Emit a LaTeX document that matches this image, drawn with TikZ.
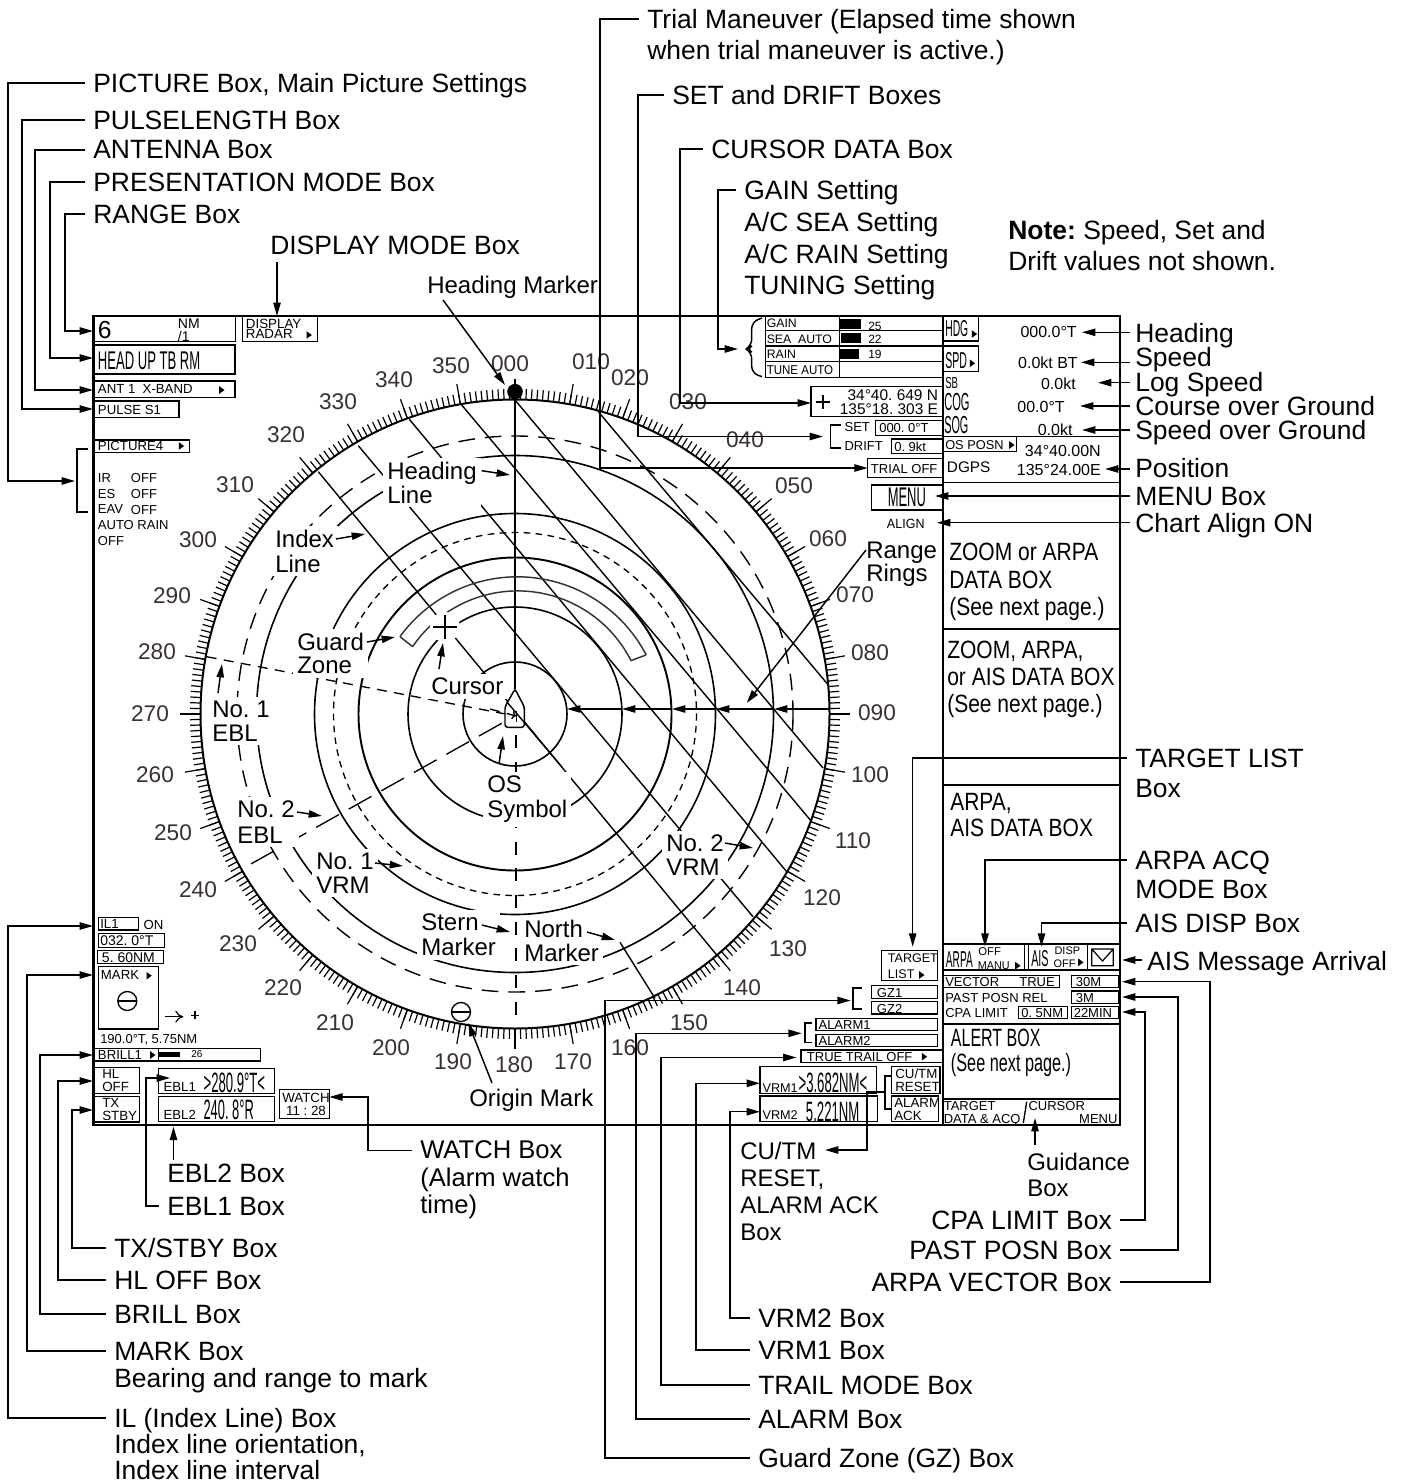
\documentclass[tikz,border=0pt]{standalone}
\usepackage{fontspec}
\usepackage{graphicx}
\setmainfont{Liberation Sans}
\usetikzlibrary{arrows.meta,calc}
\definecolor{numc}{HTML}{3A2E38}
\frenchspacing
\newcommand\cs[2]{\scalebox{#1}[1]{#2}}
\tikzset{
  tx/.style={anchor=north west,inner sep=0pt,align=left,font=\fontsize{#1}{#1}\selectfont,yshift=.358*#1*1pt},
  txr/.style={tx=#1,anchor=north east},
  big/.style={tx=19.85,font=\fontsize{19.85}{22.5}\selectfont},
  mid/.style={tx=18,font=\fontsize{18}{18}\selectfont},
  midw/.style={mid,fill=white,inner sep=3pt,xshift=-3pt,yshift=3pt},
  num/.style={inner sep=0pt,text=numc,font=\fontsize{17}{17}\selectfont},
  ar/.style={line width=1.1pt,-{Triangle[length=10pt,width=5.5pt]}},
  ln/.style={line width=1.1pt},
  bxs/.style={draw,line width=1pt,anchor=north west,inner sep=0pt,outer sep=0pt},
  ringl/.style={line width=1.2pt},
  idx/.style={line width=1.05pt},
  gz/.style={line width=1.1pt,draw=numc},
}
\newcommand\bx[5]{\pgfmathsetmacro\bxw{(#4-#2)*.75}\pgfmathsetmacro\bxh{(#5-#3)*.75}\node[bxs,minimum width=\bxw pt,minimum height=\bxh pt] (#1) at (#2,#3) {};}
\newcommand\elw[3]{\draw[ar] ([xshift=-6pt,yshift=-7.1pt]#1.north west) -| (#2) -- (#2 -| #3);}
\newcommand\ele[3]{\draw[ar] ([xshift=6pt,yshift=-7.1pt]#1.north east) -| (#2) -- (#2 -| #3);}
\newcommand\rar[3]{\coordinate (t#1) at (#2,#3); \draw[ar] ([xshift=-4pt]t#1 -| #1.west) -- (t#1);}
\newcommand\lead[5]{\coordinate (#1s) at (#2,#3); \coordinate (#1t) at (#4,#5); \draw[ar] (#1s) -- (#1t);}
\newcommand\tri[2]{\fill (#1-2.5,#2-3.8) -- (#1+2.8,#2) -- (#1-2.5,#2+3.8) -- cycle;}
\begin{document}
\begin{tikzpicture}[x=0.75pt,y=-0.75pt]
\useasboundingbox (0,0) rectangle (1403,1483);
\coordinate (fl) at (93,0);
\coordinate (fr) at (1122,0);
% ---- scale and rings
\draw[line width=1.5pt] (515,714) circle (314.5);
\foreach \a in {0,...,359}
  \draw[line width=.9pt] ({515+314.5*sin(\a)},{714-314.5*cos(\a)}) -- ({515+325*sin(\a)},{714-325*cos(\a)});
\foreach \a in {0,10,...,350}
  \draw[line width=.9pt] ({515+314.5*sin(\a)},{714-314.5*cos(\a)}) -- ({515+335*sin(\a)},{714-335*cos(\a)});
\foreach \t/\xx/\yy in {000/510/364,010/591/362,020/630/378,030/688/402,040/745/440,050/794/486,060/828/539,070/855/595,080/870/653,090/877/713,100/870/775,110/853/841,120/822/898,130/788/949,140/742/988,150/689/1023,160/630/1048,170/573/1062,180/514/1065,190/453/1062,200/391/1048,210/335/1023,220/283/988,230/238/944,240/198/890,250/173/833,260/155/775,270/150/714,280/157/652,290/172/596,300/198/540,310/235/485,320/286/435,330/338/402,340/394/380,350/451/366}
  \node[num] (d\t) at (\xx,\yy) {\t};
\draw[ringl] (515,714) circle (52);
\draw[ringl] (515,714) circle (107);
\draw[line width=1.45pt] (515,714) circle (156.5);
\draw[line width=1pt,dash pattern=on 5pt off 4pt] (515,714) circle (181.5);
\draw[ringl] (515,714) circle (200.5);
\draw[ringl] (515,714) circle (258.5);
\draw[line width=1.05pt,dash pattern=on 12.5pt off 7.5pt] (515,714) circle (278);
% index lines
\draw[idx] (598.3,411.7) -- (828.3,685);
\draw[idx] (515,400) -- (823,768);
\draw[idx] (461.7,405) -- (811.7,821.7);
\draw[idx] (409.3,419.3) -- (786.7,871.7);
\draw[idx] (358.3,445.7) -- (753,916.7);
\draw[idx] (318.3,471.7) -- (716.7,955);
\draw[idx] (620,942.3) -- (655,998.3);
% heading line and EBLs
\draw[line width=1.2pt] (515,392) -- (515,700);
\fill (515,391.7) circle (7.8);
\draw[line width=1pt,dash pattern=on 7.5pt off 5.5pt,-{To[length=3pt]}] (206.7,656.7) -- (516,716);
\draw[line width=1pt,dash pattern=on 19.5pt off 8.5pt] (501.7,723.3) -- (245,867.3);
\draw[line width=1pt,dash pattern=on 9.8pt off 10.2pt] (516,735) -- (516,1015);
% guard zone
\draw[gz] plot[domain=-54:62.5,samples=70] ({517.4+145.2*sin(\x)},{722-145.2*cos(\x)});
\draw[gz] plot[domain=-55.9:63.2,samples=70] ({517.7+126.9*sin(\x)},{717.8-126.9*cos(\x)});
\draw[gz] (400,636.7) -- (412.7,646.7);
\draw[gz] (646,655) -- (630.7,660.7);
% cursor
\fill[white] (445,627) circle (15);
\draw[line width=1.1pt] (433,627) -- (457,627) (445,615) -- (445,639);
% own ship
\fill[white] (505,706.7) -- (515,689) -- (524.3,706.7) -- (524.3,727.3) -- (505,727.3) -- cycle;
\draw[line width=1.1pt,rounded corners=2pt] (515,689) -- (524.3,706.7) -- (524.3,727.3) -- (505,727.3) -- (505,706.7) -- cycle;
\draw[idx] (506.7,701.7) -- (561.7,766.7);
\draw[line width=.8pt] (516.3,711) -- (516.3,722);
\draw[line width=1pt,dash pattern=on 7.5pt off 5.5pt,-{To[length=3pt]}] (490,709) -- (516,716);
% origin mark
\draw[line width=1pt] (461,1012) circle (9.5);
\draw[line width=1pt] (451.5,1012) -- (470.5,1012);
% ---- labels inside the scale (white behind)
\node[midw] (lHeading) at (387,470) {Heading\\Line};
\node[midw,font=\fontsize{18}{18.7}\selectfont] (lIndex) at (275,538) {Index\\Line};
\node[midw,font=\fontsize{18}{17.5}\selectfont] (lGuard) at (297,641) {Guard\\Zone};
\node[midw] (lCursor) at (431,686) {Cursor};
\node[midw] (lEbl1) at (212,709) {No. 1\\EBL};
\node[midw,font=\fontsize{18}{19.5}\selectfont] (lEbl2) at (237,809) {No. 2\\EBL};
\node[midw] (lVrm1) at (316,861) {No. 1\\VRM};
\node[midw] (lVrm2) at (666,843) {No. 2\\VRM};
\node[midw,font=\fontsize{18}{19}\selectfont] (lOs) at (487,784) {OS\\Symbol};
\node[midw,font=\fontsize{18}{18.7}\selectfont] (lStern) at (421,922) {Stern\\Marker};
\node[midw] (lNorth) at (524,928) {North\\Marker};
\node[mid,font=\fontsize{18}{17.5}\selectfont] (lRange) at (866,550) {Range\\Rings};
\node[mid] (lHm) at (427,284) {Heading Marker};
\node[mid] (lOrigin) at (469,1097) {Origin Mark};
% inner leaders
\lead{a1}{481.7}{470.7}{510}{475}
\lead{a2}{336}{539}{365}{534}
\lead{a3}{367}{642}{395}{637}
\lead{a4}{439}{669}{443}{643}
\lead{a5}{218}{693}{222}{664}
\lead{a6}{297}{812}{322}{816}
\lead{a7}{375}{863}{403}{866}
\lead{a8}{499}{764}{503}{736}
\lead{a9}{725}{843}{753}{848}
\lead{a10}{482}{925}{510}{932}
\lead{a11}{587}{932}{615}{940}
\lead{a12}{866}{550}{746.7}{703}
\lead{a13}{443}{300}{505}{385}
\lead{a14}{492}{1083}{468.3}{1023}
\foreach \p/\q in {829/774,774/716,716/672,672/622,622/567}
  \draw[ar] (\p,709) -- (\q,709);
% ---- left panel boxes
\bx{rangebox}{94.3}{316}{235.7}{341.7}
\node[tx=18.5] (t6) at (97.7,330) {6};
\node[tx=10.5] (tNM) at (177.7,323.3) {NM};
\node[tx=10.5] (t1) at (177.7,335.7) {/1};
\bx{dispbox}{242.7}{316}{317.7}{341.7}
\node[tx=10,font=\fontsize{10}{8}\selectfont] (tDisp) at (245.7,323.3) {DISPLAY\\RADAR};
\tri{309}{335}
\bx{headbox}{94.3}{345}{235}{374}
\node[tx=19.2] (tHead) at (97.7,361) {\cs{.51}{HEAD UP TB RM}};
\bx{antbox}{94.3}{381}{235}{397.3}
\node[tx=9.9] (tAnt) at (97.7,389.3) {ANT 1\ \ X-BAND};
\tri{221.7}{390}
\bx{pulsebox}{94.3}{401}{179}{417.3}
\node[tx=9.9] (tPulse) at (97.7,409.3) {PULSE S1};
\bx{picbox}{94.3}{440}{189.7}{452.3}
\node[tx=9.9] (tPic) at (97.7,446) {PICTURE4};
\tri{181.3}{446}
\node[tx=9.75,font=\fontsize{9.75}{11.9}\selectfont] (tIr) at (97.7,477.7) {IR\\ES\\EAV\\AUTO RAIN\\OFF};
\node[tx=9.75,font=\fontsize{9.75}{11.9}\selectfont] (tIrv) at (130.7,477.7) {OFF\\OFF\\OFF};
% lower left
\bx{ilbox}{98.3}{917.3}{138.3}{930}
\node[tx=9.9] (tIl) at (100,923.7) {IL1};
\node[tx=9.9] (tOn) at (143.3,924.3) {ON};
\bx{oribox}{98.3}{933.3}{164.3}{947.3}
\node[tx=10.5] (tOri) at (100,940) {032. 0°T};
\bx{intbox}{97.7}{950.7}{163.3}{963.3}
\node[tx=10.5] (tInt) at (101.7,957) {5. 60NM};
\bx{markbox}{98.3}{966.7}{158.3}{1029}
\node[tx=9.9] (tMark) at (100.7,975) {MARK};
\tri{149}{975.7}
\draw[line width=1pt] (127.3,1001) circle (9.5);
\draw[line width=1pt] (117.8,1001) -- (136.8,1001);
\draw[line width=.9pt,-{To[length=6pt,width=9pt]}] (165,1016.7) -- (183.3,1016.7);
\draw[line width=.9pt] (191,1015.3) -- (199,1015.3) (195,1011.3) -- (195,1019.3);
\node[tx=9.75] (tMarkv) at (100,1038.3) {190.0°T, 5.75NM};
\bx{brillbox}{94.3}{1048.3}{260.7}{1061}
\draw[line width=1pt] (158.3,1048.3) -- (158.3,1061);
\node[tx=9.9] (tBrill) at (97.7,1054.7) {BRILL1};
\tri{152.7}{1055}
\fill (159,1052.3) rectangle (180,1057);
\node[tx=7.5] (tB26) at (191,1054.3) {26};
\bx{hlbox}{94.3}{1067.7}{139.3}{1093.3}
\node[tx=10,font=\fontsize{10}{9.5}\selectfont] (tHl) at (102,1074) {HL\\OFF};
\bx{txbox}{94.3}{1096.7}{139.3}{1122}
\node[tx=10,font=\fontsize{10}{9.5}\selectfont] (tTx) at (102,1103.3) {TX\\STBY};
\bx{ebl1box}{158.3}{1068.3}{274.3}{1093.3}
\node[tx=9.9] (tEb1) at (163.3,1086.7) {EBL1};
\node[tx=21] (vEb1) at (203.3,1082.3) {\cs{.47}{>280.9°T<}};
\bx{ebl2box}{158.3}{1096.7}{274.3}{1121.7}
\node[tx=9.9] (tEb2) at (163.3,1114.3) {EBL2};
\node[tx=21] (vEb2) at (203.3,1110) {\cs{.46}{240. 8°R}};
\bx{watchbox}{279.3}{1089.3}{329.3}{1118.3}
\node[tx=10,font=\fontsize{10}{10}\selectfont,align=center] (tWatch) at (282,1097.3) {WATCH\\11 : 28};
% ---- upper right boxes
\draw[line width=1pt] (765.7,316) -- (765.7,377.7) -- (943,377.7);
\draw[line width=1pt] (765.7,330.7) -- (943,330.7) (765.7,346) -- (943,346) (765.7,361.7) -- (943,361.7) (839.3,316) -- (839.3,377.7);
\node[tx=9.2] (tGain) at (766.5,323.3) {GAIN};
\node[tx=9.2] (tSea) at (766.5,339) {SEA\ \ AUTO};
\node[tx=9.2] (tRain) at (766.5,354) {RAIN};
\node[tx=9.6] (tTune) at (766.5,370) {\cs{.9}{TUNE AUTO}};
\fill (839.3,319.3) rectangle (861,329.3);
\fill (841,333) rectangle (861,342.7);
\fill (839.3,349.3) rectangle (859,358.7);
\node[tx=9] (v25) at (868,325.7) {25};
\node[tx=9] (v22) at (868,339) {22};
\node[tx=9] (v19) at (868,354) {19};
\draw[line width=1.1pt,rounded corners=5pt] (762,318) -- (751.7,322) -- (751.7,346) -- (746,349) -- (751.7,352) -- (751.7,373) -- (762,376.7);
\coordinate (bBrace) at (738,349);
\bx{hdgbox}{943}{316}{978.3}{341}
\node[tx=17.25] (tHdg) at (945,328) {\cs{.45}{HDG}};
\tri{974.3}{334}
\bx{spdbox}{943}{346}{978.3}{371.3}
\node[tx=17.25] (tSpd) at (945,360) {\cs{.46}{SPD}};
\tri{972.3}{363.3}
\node[tx=12] (tSb) at (945,382.3) {\cs{.6}{SB}};
\node[tx=18.5] (tCog) at (944,402) {\cs{.45}{COG}};
\node[tx=18.5] (tSog) at (944,424.5) {\cs{.44}{SOG}};
\node[txr=12] (vHdg) at (1077,332) {000.0°T};
\node[txr=12] (vSpd) at (1078,362.3) {0.0kt BT};
\node[txr=12] (vLog) at (1076,383) {0.0kt};
\node[txr=12] (vCog) at (1065,406.7) {00.0°T};
\node[txr=12] (vSog) at (1072.7,429.3) {0.0kt};
\draw[line width=1pt] (943,436.7) -- (1120,436.7) (943,482.3) -- (1120,482.3);
\bx{osbox}{943}{436.7}{1016.7}{451.7}
\node[tx=9.6] (tOs) at (945,444.7) {OS POSN};
\tri{1011.7}{445}
\node[txr=12] (vLat) at (1101,450.7) {34°40.00N};
\node[txr=12] (vLon) at (1101,470) {135°24.00E};
\node[tx=11.5] (tDgps) at (946.7,466.7) {DGPS};
\bx{menubox}{871.7}{485}{943}{510}
\node[tx=20.25] (tMenu) at (887.5,497.7) {\cs{.48}{MENU}};
\node[tx=10] (tAlign) at (886.7,523.3) {\cs{.94}{ALIGN}};
\bx{curbox}{811}{386.3}{942.3}{416.7}
\draw[line width=1.6pt] (815.7,401.7) -- (829.7,401.7) (822.7,394.7) -- (822.7,408.7);
\node[txr=11.6] (vCurLat) at (938.3,395) {34°40. 649 N};
\node[txr=11.6] (vCurLon) at (938.3,409) {135°18. 303 E};
\draw[line width=1.1pt] (841,425) -- (830.7,425) -- (830.7,448) -- (841,448);
\coordinate (bSet) at (823,436.5);
\node[tx=9.75] (tSet) at (844.3,427.3) {SET};
\node[tx=9.75] (tDrift) at (844.3,446) {DRIFT};
\bx{setbox}{875.7}{420.7}{942.3}{435.3}
\node[tx=9.75] (vSet) at (879,428) {000. 0°T};
\bx{driftbox}{891.7}{439}{942.3}{453.3}
\node[tx=9.75] (vDrift) at (894,446) {0. 9kt};
\bx{trialbox}{867.7}{458.3}{942.3}{477.7}
\node[tx=9.75] (tTrial) at (870.7,469.3) {TRIAL OFF};
% panel text
\draw[line width=1pt] (943,629) -- (1120,629) (943,785) -- (1120,785);
\node[tx=18.75,font=\fontsize{18.75}{20.6}\selectfont] (tZ1) at (949,552) {\cs{.84}{ZOOM or ARPA}\\\cs{.84}{DATA BOX}\\\cs{.84}{(See next page.)}};
\node[tx=18.75,font=\fontsize{18.75}{20.3}\selectfont] (tZ2) at (947,650) {\cs{.84}{ZOOM, ARPA,}\\\cs{.84}{or AIS DATA BOX}\\\cs{.84}{(See next page.)}};
\node[tx=18.75,font=\fontsize{18.75}{19.6}\selectfont] (tZ3) at (950,802) {\cs{.84}{ARPA,}\\\cs{.84}{AIS DATA BOX}};
% lower right boxes
\draw[line width=1.2pt] (943,944) -- (1120,944) (943,970) -- (1120,970) (943,1024) -- (1120,1024) (943,1099) -- (1120,1099);
\bx{arpabox}{943.3}{944}{1024.3}{970}
\node[tx=17.25] (tArpa) at (945.7,960) {\cs{.44}{ARPA}};
\node[tx=8.5] (tOff) at (978,951.7) {OFF};
\node[tx=8.5] (tManu) at (977.7,965) {\cs{.95}{MANU}};
\tri{1017.7}{965.7}
\bx{aisbox}{1028.3}{944}{1087.3}{970}
\node[tx=17.25] (tAis) at (1031,958) {\cs{.47}{AIS}};
\node[tx=8.2] (tDisp2) at (1054.3,951) {DISP};
\node[tx=8.2] (tOff2) at (1053.3,963.5) {OFF};
\tri{1080.7}{962.3}
\draw[line width=.9pt] (1091.7,949) rectangle (1113.3,965.7) (1091.7,949) -- (1102.5,961) -- (1113.3,949);
\bx{vecbox}{943}{975.7}{1059.3}{987.7}
\node[tx=9.75] (tVec) at (945,981.7) {VECTOR};
\node[txr=9.75] (tTrue) at (1055,981.7) {TRUE};
\bx{v30box}{1071.7}{975.7}{1119}{987.7}
\node[tx=9.75] (t30) at (1075.7,981.7) {30M};
\bx{v3box}{1071.7}{991}{1119}{1003.3}
\node[tx=9.75] (t3) at (1075.7,997.5) {3M};
\node[tx=9.75] (tPast) at (945,997.7) {PAST POSN REL};
\node[tx=9.75] (tCpa) at (945,1012.3) {CPA LIMIT};
\bx{cpabox}{1018.3}{1006.3}{1067.7}{1018.3}
\node[tx=9.75] (tCpav) at (1021,1012.3) {0. 5NM};
\bx{minbox}{1071.7}{1006.3}{1119}{1018.3}
\node[tx=9.75] (tMin) at (1073.5,1012.3) {22MIN};
\node[tx=18.75,font=\fontsize{18.75}{18.75}\selectfont] (tAlert) at (950.7,1038) {\cs{.64}{ALERT BOX}\\\cs{.65}{(See next page.)}};
\node[tx=9.75,font=\fontsize{9.75}{9.75}\selectfont] (tTgt) at (943.5,1106) {TARGET\\DATA \& ACQ};
\draw[line width=1pt] (1023.3,1123) -- (1026.7,1101.7);
\node[tx=9.75] (tCur) at (1028.3,1106) {CURSOR};
\node[txr=9.75] (tMenu2) at (1117.7,1119) {MENU};
\bx{tlbox}{881.7}{950.7}{937.3}{980.7}
\node[tx=9.4] (tTl1) at (887.7,958.3) {TARGET};
\node[tx=9.4] (tTl2) at (887.7,974.3) {LIST};
\tri{921.7}{975}
\bx{gz1box}{871.7}{985.3}{937.3}{998.3}
\node[tx=9.75] (tGz1) at (876.7,992.5) {GZ1};
\bx{gz2box}{871.7}{1001.7}{937.3}{1014}
\node[tx=9.75] (tGz2) at (876.7,1008.5) {GZ2};
\draw[line width=1.1pt] (861.7,988) -- (853,988) -- (853,1009) -- (861.7,1009);
\coordinate (bGz) at (850.7,1000);
\bx{al1box}{816}{1018.3}{937.3}{1030.7}
\node[tx=9.75] (tAl1) at (818.3,1024.7) {ALARM1};
\bx{al2box}{816}{1034.3}{937.3}{1046.7}
\node[tx=9.75] (tAl2) at (818.3,1040.7) {ALARM2};
\draw[line width=1.1pt] (812,1023) -- (805,1023) -- (805,1042.7) -- (812,1042.7);
\coordinate (bAl) at (801.7,1033.3);
\bx{trailbox}{801}{1050}{942.7}{1062.7}
\node[tx=9.75] (tTrail) at (806.7,1056.5) {TRUE TRAIL OFF};
\tri{924.3}{1056.7}
\bx{vrm1box}{760}{1066.7}{876.7}{1093.3}
\node[tx=9.5] (tV1) at (762.3,1088) {VRM1};
\node[tx=21] (vV1) at (798.3,1083) {\cs{.47}{>3.682NM<}};
\bx{vrm2box}{760}{1096}{877.3}{1121.7}
\node[tx=9.5] (tV2) at (762.3,1115) {VRM2};
\node[tx=21] (vV2) at (805.7,1111.7) {\cs{.47}{5.221NM}};
\bx{cubox}{891.7}{1066.7}{940}{1093.3}
\node[tx=10,font=\fontsize{10}{9.5}\selectfont] (tCu) at (895,1073.3) {CU/TM\\RESET};
\bx{akbox}{891.7}{1096}{938.3}{1121.7}
\node[tx=10,font=\fontsize{10}{9.5}\selectfont] (tAk) at (894,1103.3) {ALARM\\ACK};
\draw[line width=1.1pt] (892,1076) -- (885,1076) -- (885,1109) -- (892,1109);
% frame
\draw[line width=1.2pt] (943,316) -- (943,1125);
\draw[line width=2pt] (93.3,316) rectangle (1120,1125);
% bracket for picture settings
\draw[line width=1.1pt] (88,449) -- (77,449) -- (77,512) -- (88,512);
\coordinate (bPic) at (75,481);
% ---- outer labels
\node[big] (picL) at (93,83) {PICTURE Box, Main Picture Settings};
\node[big] (pulL) at (93,120) {PULSELENGTH Box};
\node[big] (antL) at (93,150) {ANTENNA Box};
\node[big] (preL) at (93,182) {PRESENTATION MODE Box};
\node[big] (ranL) at (93,214) {RANGE Box};
\node[big] (disL) at (270,245) {DISPLAY MODE Box};
\node[big,font=\fontsize{19.85}{23.2}\selectfont] (triL) at (647,19) {Trial Maneuver (Elapsed time shown\\when trial maneuver is active.)};
\node[big] (setL) at (672,95) {SET and DRIFT Boxes};
\node[big] (curL) at (711,149) {CURSOR DATA Box};
\node[big,font=\fontsize{19.85}{23.75}\selectfont] (gainL) at (744,190) {GAIN Setting\\A/C SEA Setting\\A/C RAIN Setting\\TUNING Setting};
\node[big,font=\fontsize{19.85}{23.2}\selectfont] (noteL) at (1008,230) {\textbf{Note:} Speed, Set and\\Drift values not shown.};
\node[big] (hdgL) at (1135,333) {Heading};
\node[big] (spdL) at (1135,357) {Speed};
\node[big] (logL) at (1135,382) {Log Speed};
\node[big] (cogL) at (1135,406) {Course over Ground};
\node[big] (sogL) at (1135,430) {Speed over Ground};
\node[big] (posL) at (1135,468) {Position};
\node[big] (menL) at (1135,496) {MENU Box};
\node[big] (alnL) at (1135,523) {Chart Align ON};
\node[big] (tglL) at (1135,758) {TARGET LIST\\Box};
\node[big,font=\fontsize{19.85}{21.9}\selectfont] (acqL) at (1135,860) {ARPA ACQ\\MODE Box};
\node[big] (aisL) at (1135,923) {AIS DISP Box};
\node[big] (msgL) at (1147,961) {AIS Message Arrival};
\node[big,anchor=north east] (vecL) at (1112,1282) {ARPA VECTOR Box};
\node[big,anchor=north east] (pastL) at (1112,1250) {PAST POSN Box};
\node[big,anchor=north east] (cpaL) at (1112,1220) {CPA LIMIT Box};
\node[mid,font=\fontsize{18}{19.5}\selectfont] (gdL) at (1027,1161) {Guidance\\Box};
\node[mid,font=\fontsize{18}{20.25}\selectfont] (cuL) at (740,1150) {CU/TM\\RESET,\\ALARM ACK\\Box};
\node[big] (vr2L) at (758,1318) {VRM2 Box};
\node[big] (vr1L) at (758,1350) {VRM1 Box};
\node[big] (trlL) at (758,1385) {TRAIL MODE Box};
\node[big] (almL) at (758,1419) {ALARM Box};
\node[big] (gzL) at (758,1458) {Guard Zone (GZ) Box};
\node[tx=19.2,font=\fontsize{19.2}{20.6}\selectfont] (wchL) at (420,1150) {WATCH Box\\(Alarm watch\\time)};
\node[big] (e2L) at (167,1173) {EBL2 Box};
\node[big] (e1L) at (167,1206) {EBL1 Box};
\node[big] (txL) at (114,1248) {TX/STBY Box};
\node[big] (hlL) at (114,1280) {HL OFF Box};
\node[big] (brL) at (114,1314) {BRILL Box};
\node[big,font=\fontsize{19.85}{20.3}\selectfont] (mkL) at (114,1351) {MARK Box\\Bearing and range to mark};
\node[big,font=\fontsize{19.85}{19.2}\selectfont] (ilL) at (114,1418) {IL (Index Line) Box\\Index line orientation,\\Index line interval};
% ---- elbow connectors
\coordinate (c1) at (8,481);      \elw{picL}{c1}{bPic}
\coordinate (c2) at (22,409);     \elw{pulL}{c2}{fl}
\coordinate (c3) at (35,390);     \elw{antL}{c3}{fl}
\coordinate (c4) at (50,358);     \elw{preL}{c4}{fl}
\coordinate (c5) at (65,331);     \elw{ranL}{c5}{fl}
\coordinate (c6) at (600,468);    \elw{triL}{c6}{trialbox.west}
\coordinate (c7) at (638,436.5);  \elw{setL}{c7}{bSet}
\coordinate (c8) at (680,403);    \elw{curL}{c8}{curbox.west}
\coordinate (c9) at (718,349);    \elw{gainL}{c9}{bBrace}
\coordinate (c10) at (72,1110);   \elw{txL}{c10}{fl}
\coordinate (c11) at (58,1081);   \elw{hlL}{c11}{fl}
\coordinate (c12) at (40,1055);   \elw{brL}{c12}{fl}
\coordinate (c13) at (27,975);    \elw{mkL}{c13}{fl}
\coordinate (c14) at (8,926);     \elw{ilL}{c14}{fl}
\coordinate (c15) at (146,1078);  \coordinate (t15) at (170,1078); \elw{e1L}{c15}{t15}
\coordinate (c16) at (368,1097);  \elw{wchL}{c16}{watchbox.east}
\coordinate (c17) at (730,1111.7);\elw{vr2L}{c17}{vrm2box.west}
\coordinate (c18) at (696,1083.3);\elw{vr1L}{c18}{vrm1box.west}
\coordinate (c19) at (661,1057.5);\coordinate (t19) at (796.5,1057.5); \elw{trlL}{c19}{t19}
\coordinate (c20) at (636,1033.3);\elw{almL}{c20}{bAl}
\coordinate (c21) at (605,1000.5);\elw{gzL}{c21}{bGz}
\coordinate (c22) at (1210,981.7);\ele{vecL}{c22}{fr}
\coordinate (c23) at (1178,997);  \ele{pastL}{c23}{fr}
\coordinate (c24) at (1145,1012); \ele{cpaL}{c24}{fr}
% arrows into top labels
\coordinate (c25) at (912.7,946.7); \draw[ar] ([xshift=-6pt,yshift=-7.1pt]tglL.north west) -| (c25);
\coordinate (c26) at (985,946.7);   \draw[ar] ([xshift=-6pt,yshift=-7.1pt]acqL.north west) -| (c26);
\coordinate (c27) at (1041.5,946.7);\draw[ar] ([xshift=-6pt,yshift=-7.1pt]aisL.north west) -| (c27);
\coordinate (cDisp) at (277,262);   \draw[ar] (cDisp) -- (cDisp |- dispbox.north);
\coordinate (cE2) at (173.5,1160);  \coordinate (tE2) at (173.5,1126.7); \draw[ar] (cE2) -- (tE2);
\coordinate (cGd) at (1035,1145);   \coordinate (tGd) at (1035,1118); \draw[ar] (cGd) -- (tGd);
\coordinate (cC1) at (885,1092); \coordinate (cC2) at (867,1092); \coordinate (cC3) at (867,1150); \coordinate (cC4) at (825,1150);
\draw[ar] (cC1) -- (cC2) -- (cC3) -- (cC4);
\rar{hdgL}{1082}{332.3}
\rar{spdL}{1081}{362.3}
\rar{logL}{1098}{382.7}
\rar{cogL}{1080}{406}
\rar{sogL}{1082}{430}
\rar{posL}{1105}{469}
\rar{menL}{935}{496}
\rar{alnL}{937}{522.7}
\rar{msgL}{1122}{960}
\end{tikzpicture}
\end{document}
